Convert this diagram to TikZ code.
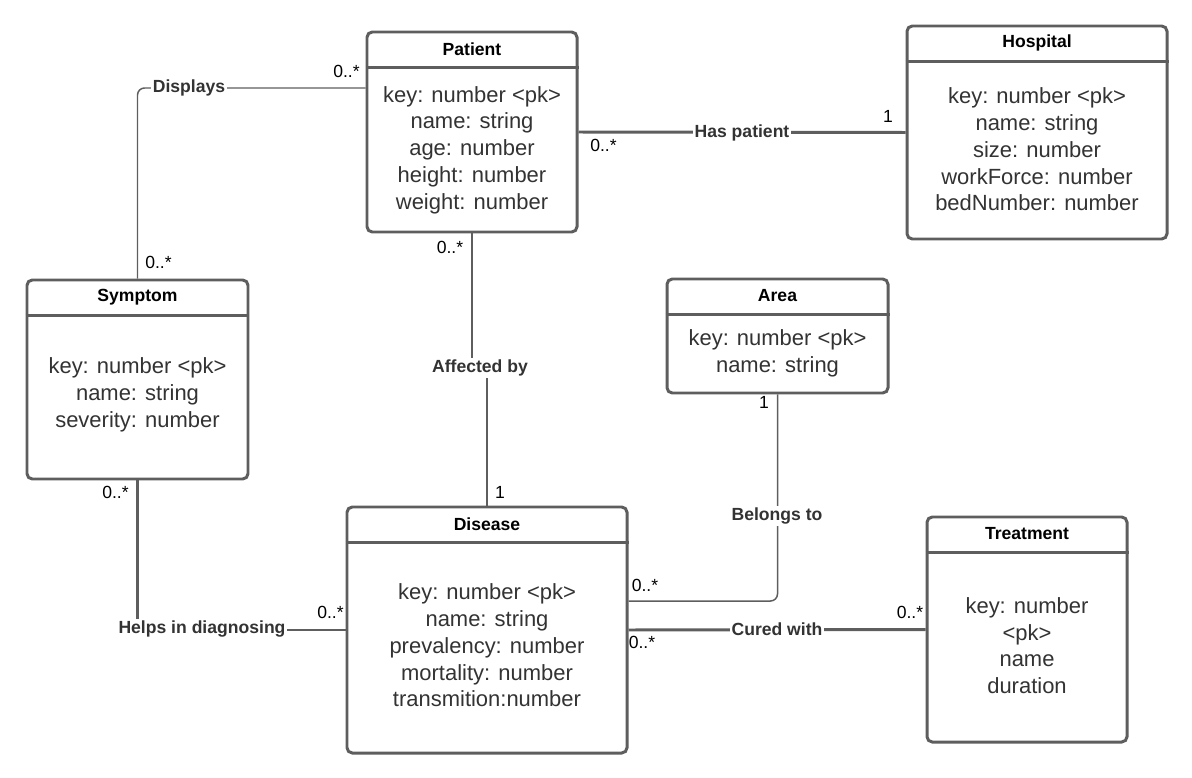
\documentclass[tikz,border=0pt]{standalone}
\usepackage{fontspec}
\setmainfont{Liberation Sans}
\definecolor{umlgray}{HTML}{5E5E5E}
\definecolor{umltext}{HTML}{333333}
\tikzset{
  classbox/.style={draw=umlgray, line width=1.7pt, rounded corners=3pt, fill=white, inner sep=0pt},
  classtitle/.style={font=\fontsize{10}{12}\selectfont\bfseries, text=black},
  attrs/.style={font=\fontsize{12.5}{15.2}\selectfont, text=umltext, align=center},
  link/.style={draw=umlgray, line width=1.7pt},
  thinlink/.style={draw=umlgray, line width=0.85pt, rounded corners=4pt},
  rel/.style={font=\fontsize{10}{12}\selectfont\bfseries, text=umltext, fill=white, inner sep=1pt},
  mult/.style={font=\fontsize{10}{12}\selectfont, text=black, inner sep=0pt},
}
\begin{document}
\begin{tikzpicture}
	\useasboundingbox (0,0) rectangle (23.84,-15.56);
	% classes
	\node[classbox, minimum width=4.2cm, minimum height=4cm] (patient) at (9.44,-2.64) {};
	\node[classbox, minimum width=5.2cm, minimum height=4.26cm] (hospital) at (20.74,-2.65) {};
	\node[classbox, minimum width=4.42cm, minimum height=3.98cm] (symptom) at (2.75,-7.59) {};
	\node[classbox, minimum width=4.42cm, minimum height=2.28cm] (area) at (15.55,-6.72) {};
	\node[classbox, minimum width=5.6cm, minimum height=4.92cm] (disease) at (9.74,-12.6) {};
	\node[classbox, minimum width=4cm, minimum height=4.5cm] (treatment) at (20.54,-12.59) {};
	\foreach \b in {patient,hospital,symptom,area,disease,treatment}
		\draw[umlgray, line width=1.7pt] ([yshift=-0.74cm]\b.north west) -- ([yshift=-0.74cm]\b.north east);
	\node[classtitle] (patient-title) at ([yshift=-0.37cm]patient.north) {Patient};
	\node[classtitle] (hospital-title) at ([yshift=-0.37cm]hospital.north) {Hospital};
	\node[classtitle] (symptom-title) at ([yshift=-0.37cm]symptom.north) {Symptom};
	\node[classtitle] (area-title) at ([yshift=-0.37cm]area.north) {Area};
	\node[classtitle] (disease-title) at ([yshift=-0.37cm]disease.north) {Disease};
	\node[classtitle] (treatment-title) at ([yshift=-0.37cm]treatment.north) {Treatment};
	\node[attrs] (patient-attrs) at (9.44,-3.0) {key: number <pk>\\name: string\\age: number\\height: number\\weight: number};
	\node[attrs] (hospital-attrs) at (20.74,-2.99) {key: number <pk>\\name: string\\size: number\\workForce: number\\bedNumber: number};
	\node[attrs] (symptom-attrs) at (2.75,-7.9) {key: number <pk>\\name: string\\severity: number};
	\node[attrs] (area-attrs) at (15.55,-7.07) {key: number <pk>\\name: string};
	\node[attrs] (disease-attrs) at (9.74,-12.91) {key: number <pk>\\name: string\\prevalency: number\\mortality: number\\transmition:number};
	\node[attrs] (treatment-attrs) at (20.54,-12.91) {key: number\\<pk>\\name\\duration};
	% associations
	\coordinate (aff) at (9.6,-7.36);
	\draw[thinlink] (symptom.north) |- ([yshift=0.88cm]patient.west);
	\draw[link] (patient.east) -- (hospital.west);
	\draw[link] (patient.south) |- (aff) -| (disease.north);
	\draw[link] (symptom.south) |- (disease.west);
	\draw[thinlink] (area.south) |- ([yshift=0.58cm]disease.east);
	\draw[link] (disease.east) -- (treatment.west);
	\node[rel] (displays) at (3.78,-1.76) {Displays};
	\node[rel] (has-patient) at (14.84,-2.66) {Has patient};
	\node[rel] (affected-by) at (aff) {Affected by};
	\node[rel] (helps) at (4.04,-12.58) {Helps in diagnosing};
	\node[rel] (belongs-to) at (15.54,-10.32) {Belongs to};
	\node[rel] (cured-with) at (15.54,-12.58) {Cured with};
	% multiplicities
	\node[mult] (m-displays-p) at (6.93,-1.42) {0..*};
	\node[mult] (m-displays-s) at (3.17,-5.24) {0..*};
	\node[mult] (m-has-p) at (12.07,-2.9) {0..*};
	\node[mult] (m-has-h) at (17.76,-2.32) {1};
	\node[mult] (m-aff-p) at (9.0,-4.94) {0..*};
	\node[mult] (m-aff-d) at (10.0,-9.84) {1};
	\node[mult] (m-bel-a) at (15.28,-8.04) {1};
	\node[mult] (m-bel-d) at (12.9,-11.7) {0..*};
	\node[mult] (m-cur-d) at (12.84,-12.84) {0..*};
	\node[mult] (m-cur-t) at (18.2,-12.24) {0..*};
	\node[mult] (m-help-s) at (2.31,-9.84) {0..*};
	\node[mult] (m-help-d) at (6.61,-12.24) {0..*};
\end{tikzpicture}
\end{document}
